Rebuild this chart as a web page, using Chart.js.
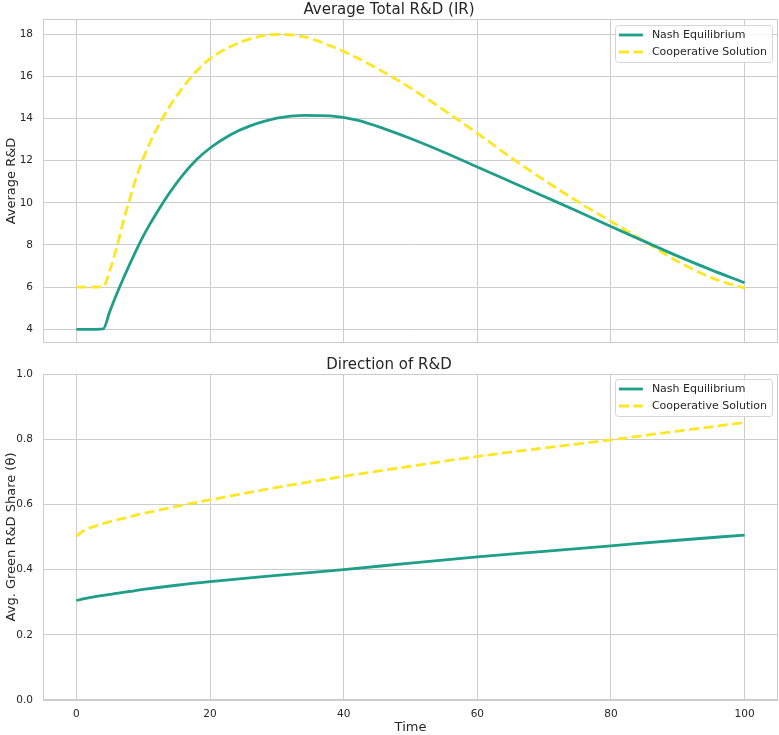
<!DOCTYPE html>
<html>
<head>
<meta charset="utf-8">
<script src="https://cdn.jsdelivr.net/npm/chart.js@4.4.1/dist/chart.umd.min.js"></script>
<style>
  body { margin: 0; background: #fff; }
  #wrap { position: relative; width: 779px; height: 735px; }
  #topBox { position: absolute; left: 0; top: 0; width: 779px; height: 350px; }
  #bottomBox { position: absolute; left: 0; top: 350px; width: 779px; height: 385px; }
</style>
</head>
<body>
<div id="wrap">
  <div id="topBox"><canvas id="topChart"></canvas></div>
  <div id="bottomBox"><canvas id="bottomChart"></canvas></div>
</div>
<script>
// data
var seriesNames = ["Nash Equilibrium", "Cooperative Solution"];

var topTime = [0, 2, 4, 5, 6, 7, 8, 9, 10, 11, 12, 14, 16, 18, 20, 23, 26, 30, 34, 38, 42, 46, 50, 55, 60, 65, 70, 75, 80, 85, 90, 95, 100];
var topNash = [4, 4, 4.02, 4.85, 5.65, 6.4, 7.1, 7.78, 8.42, 8.99, 9.52, 10.5, 11.35, 12.05, 12.6, 13.22, 13.65, 14.02, 14.15, 14.12, 13.92, 13.52, 13.05, 12.4, 11.7, 11.0, 10.3, 9.6, 8.88, 8.17, 7.47, 6.82, 6.21];
var topCoop = [6, 6, 6.02, 6.8, 7.85, 9.1, 10.2, 11.25, 12.1, 12.85, 13.5, 14.6, 15.5, 16.25, 16.84, 17.4, 17.78, 17.99, 17.88, 17.45, 16.88, 16.2, 15.45, 14.4, 13.3, 12.15, 11.08, 10.06, 9.12, 8.17, 7.22, 6.45, 5.95];

var bottomTime = [0, 1, 2, 4, 6, 8, 10, 15, 20, 30, 40, 50, 60, 70, 80, 90, 100];
var bottomNash = [0.305, 0.310, 0.314, 0.321, 0.327, 0.333, 0.339, 0.352, 0.363, 0.382, 0.400, 0.420, 0.439, 0.456, 0.473, 0.490, 0.506];
var bottomCoop = [0.503, 0.518, 0.528, 0.541, 0.552, 0.562, 0.572, 0.594, 0.614, 0.652, 0.686, 0.717, 0.747, 0.773, 0.798, 0.825, 0.851];

var xTicks = [0, 20, 40, 60, 80, 100];
var topYTicks = [4, 6, 8, 10, 12, 14, 16, 18];
var bottomYTicks = [0, 0.2, 0.4, 0.6, 0.8, 1.0];

var TEAL = "#1f9e89";
var YELLOW = "#fde725";
var GRID = "#cccccc";
var TEXT = "#262626";
var FONT = "'DejaVu Sans', sans-serif";

function toPoints(xs, ys) {
  var pts = [];
  for (var i = 0; i < xs.length; ++i) {
    pts.push({x: xs[i], y: ys[i]});
  }
  return pts;
}

// frame round the plot + legend box in the upper right, like matplotlib
var framePlugin = {
  id: "frameAndLegend",
  afterDraw: function(chart) {
    var ctx = chart.ctx;
    var a = chart.chartArea;
    ctx.save();
    ctx.strokeStyle = GRID;
    ctx.lineWidth = 1;
    ctx.strokeRect(Math.round(a.left) + 0.5, Math.round(a.top) + 0.5,
                   Math.round(a.right - a.left) - 1, Math.round(a.bottom - a.top) - 1);

    var off = chart.options.plugins.frameAndLegend.offset;
    ctx.font = "11px " + FONT;
    var maxW = 0;
    chart.data.datasets.forEach(function(ds) {
      maxW = Math.max(maxW, ctx.measureText(ds.label).width);
    });
    var boxW = 4 + 24 + 9 + maxW + 5;
    var boxH = 37;
    var bx = a.right - 6 - boxW;
    var by = a.top + off;

    ctx.beginPath();
    ctx.roundRect(Math.round(bx) + 0.5, Math.round(by) + 0.5, Math.round(boxW), boxH, 3);
    ctx.fillStyle = "rgba(255,255,255,0.8)";
    ctx.fill();
    ctx.strokeStyle = "#d6d6d6";
    ctx.stroke();

    chart.data.datasets.forEach(function(ds, i) {
      var cy = by + 10 + i * 17;
      ctx.beginPath();
      ctx.strokeStyle = ds.borderColor;
      ctx.lineWidth = ds.borderWidth;
      ctx.setLineDash(ds.borderDash || []);
      ctx.moveTo(bx + 4, cy);
      ctx.lineTo(bx + 28, cy);
      ctx.stroke();
      ctx.setLineDash([]);
      ctx.fillStyle = TEXT;
      ctx.textBaseline = "middle";
      ctx.fillText(ds.label, bx + 37, cy + 0.5);
    });
    ctx.restore();
  }
};

function makeChart(canvasId, opts) {
  var ctx = document.getElementById(canvasId);
  var data = {
    datasets: [{
      label: seriesNames[0],
      data: toPoints(opts.time, opts.nash),
      borderColor: TEAL,
      borderWidth: 2.8,
      pointRadius: 0,
      cubicInterpolationMode: "monotone"
    }, {
      label: seriesNames[1],
      data: toPoints(opts.time, opts.coop),
      borderColor: YELLOW,
      borderWidth: 2.8,
      borderDash: [10, 4.5],
      pointRadius: 0,
      cubicInterpolationMode: "monotone"
    }]
  };

  return new Chart(ctx, {
    type: "line",
    data: data,
    plugins: [framePlugin],
    options: {
      responsive: true,
      maintainAspectRatio: false,
      animation: false,
      layout: {padding: {left: 0, right: 1, top: 0, bottom: opts.padBottom}},
      plugins: {
        legend: {display: false},
        tooltip: {enabled: false},
        title: {
          display: true,
          text: opts.title,
          color: TEXT,
          font: {family: FONT, size: 15, weight: "normal"},
          padding: {top: opts.titleTop, bottom: 0}
        },
        frameAndLegend: {offset: opts.legendOffset}
      },
      scales: {
        x: {
          type: "linear",
          min: -5,
          max: 105,
          afterBuildTicks: function(scale) {
            scale.ticks = xTicks.map(function(v) { return {value: v}; });
          },
          afterFit: function(scale) {
            scale.height = opts.xHeight;
            scale.paddingLeft = 0;
            scale.paddingRight = 0;
          },
          grid: {color: GRID, lineWidth: 1, drawTicks: false},
          border: {display: false},
          ticks: {
            display: opts.showX,
            color: TEXT,
            padding: 8,
            font: {family: FONT, size: 10.5}
          },
          title: {
            display: opts.showX,
            text: "Time",
            color: TEXT,
            font: {family: FONT, size: 13},
            padding: {top: 0, bottom: 0}
          }
        },
        y: {
          min: opts.yMin,
          max: opts.yMax,
          afterBuildTicks: function(scale) {
            scale.ticks = opts.yTicks.map(function(v) { return {value: v}; });
          },
          afterFit: function(scale) {
            scale.width = 43;
            scale.paddingTop = 0;
            scale.paddingBottom = 0;
          },
          grid: {color: GRID, lineWidth: 1, drawTicks: false},
          border: {display: false},
          ticks: {
            color: TEXT,
            padding: 10,
            font: {family: FONT, size: 10.5},
            callback: opts.yFormat
          },
          title: {
            display: true,
            text: opts.yTitle,
            color: TEXT,
            font: {family: FONT, size: 13},
            padding: {top: 4, bottom: 4}
          }
        }
      }
    }
  });
}

makeChart("topChart", {
  time: topTime, nash: topNash, coop: topCoop,
  title: "Average Total R&D (IR)",
  titleTop: 1,
  yTitle: "Average R&D",
  yMin: 3.35, yMax: 18.72,
  yTicks: topYTicks,
  yFormat: function(v) { return String(v); },
  showX: false,
  xHeight: 0,
  padBottom: 7,
  legendOffset: 6
});

makeChart("bottomChart", {
  time: bottomTime, nash: bottomNash, coop: bottomCoop,
  title: "Direction of R&D",
  titleTop: 6,
  yTitle: "Avg. Green R&D Share (θ)",
  yMin: 0, yMax: 1,
  yTicks: bottomYTicks,
  yFormat: function(v) { return v.toFixed(1); },
  showX: true,
  xHeight: 35,
  padBottom: 0,
  legendOffset: 5
});
</script>
</body>
</html>
